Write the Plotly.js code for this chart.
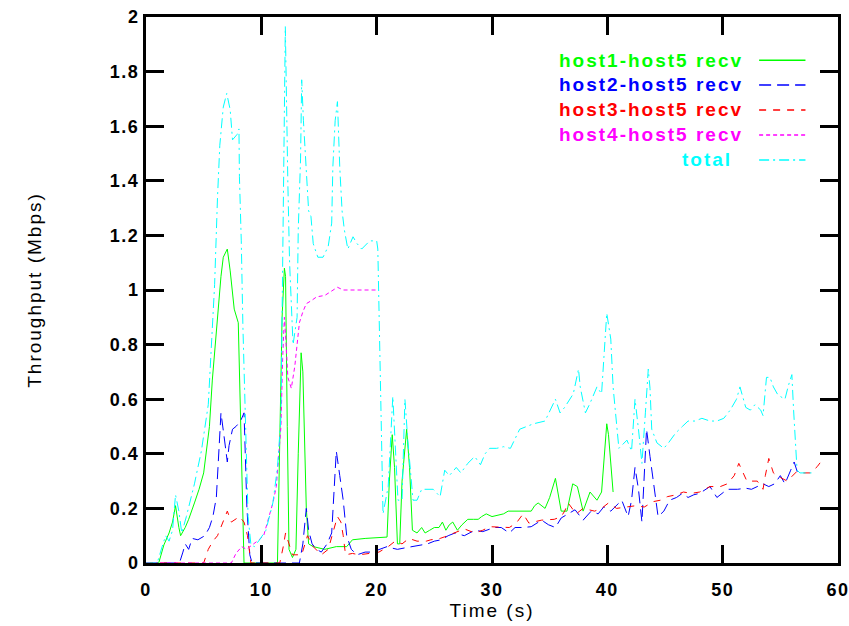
<!DOCTYPE html>
<html>
<head>
<meta charset="utf-8">
<script src="https://cdn.plot.ly/plotly-3.0.1.min.js"></script>
<style>
  html, body { margin: 0; padding: 0; background: #fff; }
  #chart { width: 849px; height: 626px; }
  #chart .main-svg text { letter-spacing: 2px; }
  #chart .main-svg .xtick text, #chart .main-svg .ytick text { letter-spacing: 1.5px; }
</style>
</head>
<body>
<div id="chart"></div>
<script>
// ---- data (time in s, throughput in Mbps) ----
const seriesNames = ["host1-host5 recv", "host2-host5 recv", "host3-host5 recv", "host4-host5 recv", "total"];
const seriesColors = ["#00ff00", "#0000ff", "#ff0000", "#ff00ff", "#00ffff"];
const seriesDashes = ["solid", "12px,6px", "7px,7px", "4px,3px", "10px,4px,2px,4px"];

const t1 = [0, 1.1, 1.55, 2.0, 2.3, 2.56, 2.85, 3.0, 3.4, 3.7,
  4.2, 4.6, 5.0, 5.2, 5.5, 5.75, 6.0, 6.2, 6.5, 6.7,
  7.05, 7.3, 7.5, 7.65, 8.0, 8.2, 8.35, 8.5, 11.4, 11.6,
  11.8, 12.0, 12.1, 12.25, 12.4, 12.7, 13.0, 13.2, 13.45, 13.6,
  13.75, 13.9, 14.1, 14.5, 15.5, 16.5, 17.4, 17.9, 19.0, 20.9,
  21.1, 21.35, 21.55, 21.8, 22.0, 22.2, 22.6, 22.85, 23.1, 23.5,
  23.9, 24.2, 24.6, 25.0, 25.4, 25.7, 26.0, 26.3, 26.6, 27.0,
  27.4, 27.9, 28.4, 28.8, 29.1, 29.5, 30.0, 30.5, 31.0, 31.4,
  32.0, 32.6, 33.4, 33.7, 34.0, 34.6, 35.0, 35.5, 36.0, 36.5,
  37.0, 37.4, 37.9, 38.5, 39.1, 39.5, 39.95, 40.1, 40.5];
const host1 = [0, 0, 0.066, 0.11, 0.15, 0.21, 0.13, 0.1, 0.13, 0.16,
  0.22, 0.27, 0.33, 0.39, 0.5, 0.67, 0.8, 0.92, 1.05, 1.12,
  1.15, 1.07, 1.0, 0.93, 0.88, 0.55, 0.25, 0, 0, 0.45,
  0.9, 1.08, 1.05, 0.5, 0.05, 0.02, 0.05, 0.4, 0.77, 0.7,
  0.45, 0.2, 0.07, 0.06, 0.05, 0.06, 0.06, 0.085, 0.09, 0.095,
  0.3, 0.47, 0.35, 0.07, 0.07, 0.3, 0.49, 0.35, 0.12, 0.11,
  0.13, 0.11, 0.12, 0.13, 0.13, 0.15, 0.12, 0.14, 0.15, 0.12,
  0.14, 0.16, 0.16, 0.16, 0.17, 0.18, 0.17, 0.176, 0.18, 0.19,
  0.19, 0.19, 0.19, 0.21, 0.22, 0.2, 0.24, 0.31, 0.19, 0.19,
  0.29, 0.28, 0.19, 0.26, 0.23, 0.26, 0.51, 0.47, 0.26];

const t2 = [0, 2.9, 3.2, 3.4, 3.7, 4.0, 4.5, 5.1, 5.5, 5.8,
  6.1, 6.3, 6.5, 6.75, 7.05, 7.2, 7.5, 7.8, 8.2, 8.5,
  8.6, 8.75, 9.0, 9.2, 13.3, 13.6, 13.9, 14.1, 14.4, 14.8,
  15.2, 15.7, 16.1, 16.3, 16.5, 16.8, 17.1, 17.4, 17.8, 18.3,
  19.0, 19.6, 20.3, 20.9, 21.3, 21.8, 22.4, 23.0, 23.7, 24.4,
  25.0, 25.6, 26.2, 26.8, 27.6, 28.0, 28.5, 29.2, 30.2, 30.8,
  31.5, 32.0, 32.7, 33.4, 34.3, 34.9, 35.5, 36.0, 36.6, 37.2,
  37.9, 38.6, 39.2, 39.7, 40.3, 40.8, 41.25, 41.8, 42.1, 42.4,
  42.7, 43.0, 43.2, 43.4, 43.7, 44.0, 44.4, 44.9, 45.4, 46.0,
  46.5, 47.0, 47.5, 48.0, 48.9, 49.5, 50.4, 51.3, 52.0, 52.5,
  53.0, 53.5, 54.0, 54.5, 55.0, 55.4, 55.9, 56.2, 56.5];
const host2 = [0, 0, 0.04, 0.07, 0.05, 0.09, 0.085, 0.1, 0.13, 0.17,
  0.24, 0.4, 0.55, 0.47, 0.37, 0.43, 0.49, 0.5, 0.52, 0.55,
  0.38, 0.2, 0.03, 0, 0, 0.07, 0.2, 0.12, 0.07, 0.05,
  0.04, 0.07, 0.11, 0.25, 0.41, 0.32, 0.23, 0.1, 0.05, 0.03,
  0.04, 0.04, 0.05, 0.06, 0.055, 0.05, 0.055, 0.06, 0.065, 0.07,
  0.08, 0.085, 0.1, 0.11, 0.1, 0.11, 0.12, 0.115, 0.13, 0.13,
  0.11, 0.13, 0.13, 0.133, 0.157, 0.14, 0.13, 0.165, 0.18, 0.195,
  0.157, 0.19, 0.18, 0.206, 0.19, 0.21, 0.23, 0.17, 0.23, 0.35,
  0.27, 0.15, 0.3, 0.49, 0.39, 0.29, 0.17, 0.19, 0.23, 0.24,
  0.255, 0.24, 0.25, 0.255, 0.28, 0.24, 0.27, 0.27, 0.274, 0.27,
  0.28, 0.29, 0.28, 0.29, 0.32, 0.29, 0.34, 0.37, 0.33];

const t3 = [0, 5.0, 5.4, 5.8, 6.2, 6.6, 7.05, 7.4, 7.8, 8.1,
  8.5, 8.8, 9.1, 11.6, 11.9, 12.1, 12.4, 12.7, 13.0, 13.5,
  14.0, 14.5, 15.2, 15.8, 16.2, 16.6, 16.9, 17.1, 17.3, 17.9,
  18.5, 19.6, 20.2, 21.0, 21.6, 22.2, 22.8, 23.5, 24.3, 24.7,
  25.5, 25.9, 26.8, 27.6, 28.5, 29.2, 29.8, 30.8, 31.5, 32.1,
  32.7, 33.2, 34.3, 35.4, 36.0, 36.3, 36.6, 37.3, 37.9, 38.9,
  39.5, 40.1, 40.8, 41.8, 42.5, 43.2, 44.0, 44.6, 45.2, 46.0,
  46.6, 47.3, 48.0, 48.9, 49.8, 50.4, 51.0, 51.4, 51.8, 52.1,
  53.0, 53.5, 53.7, 54.0, 54.4, 54.7, 55.6, 56.4, 57.0, 57.6,
  58.2, 58.5];
const host3 = [0, 0, 0.05, 0.08, 0.1, 0.14, 0.19, 0.15, 0.16, 0.17,
  0.15, 0.1, 0, 0, 0.06, 0.11, 0.07, 0.03, 0.03, 0.03,
  0.1, 0.06, 0.03, 0.05, 0.11, 0.17, 0.15, 0.1, 0.03, 0.035,
  0.03, 0.035, 0.04, 0.06, 0.08, 0.07, 0.09, 0.08, 0.08, 0.085,
  0.09, 0.096, 0.11, 0.125, 0.11, 0.12, 0.133, 0.13, 0.13, 0.146,
  0.18, 0.146, 0.157, 0.16, 0.17, 0.19, 0.22, 0.18, 0.2, 0.19,
  0.2, 0.22, 0.2, 0.206, 0.21, 0.205, 0.225, 0.23, 0.243, 0.25,
  0.26, 0.255, 0.26, 0.28, 0.28, 0.29, 0.32, 0.365, 0.33, 0.3,
  0.3, 0.27, 0.32, 0.383, 0.33, 0.32, 0.3, 0.334, 0.33, 0.33,
  0.353, 0.37];

const t4 = [0, 7.4, 7.8, 8.3, 8.7, 9.2, 9.8, 10.2, 10.7, 11.0,
  11.3, 11.5, 11.7, 11.85, 12.0, 12.15, 12.3, 12.6, 12.9, 13.1,
  13.3, 13.6, 13.9, 14.3, 14.8, 15.5, 16.2, 16.6, 17.1, 18.0,
  19.0, 20.0];
const host4 = [0, 0, 0.035, 0.06, 0.05, 0.065, 0.085, 0.1, 0.17, 0.22,
  0.28, 0.38, 0.5, 0.75, 0.9, 0.8, 0.68, 0.64, 0.72, 0.8,
  0.88, 0.92, 0.95, 0.96, 0.975, 0.98, 1.0, 1.01, 1.0, 1.0,
  1.0, 1.0];

const t5 = [0, 0.97, 1.4, 1.7, 2.0, 2.3, 2.56, 2.85, 3.1, 3.5,
  4.2, 4.8, 5.4, 5.65, 5.95, 6.2, 6.4, 6.7, 7.0, 7.3,
  7.5, 7.9, 8.06, 8.1, 8.26, 8.4, 8.55, 8.7, 8.85, 9.1,
  9.4, 9.85, 10.4, 11.0, 11.4, 11.7, 11.9, 11.96, 12.0, 12.08,
  12.12, 12.3, 12.45, 12.6, 12.75, 13.1, 13.2, 13.4, 13.5, 13.65,
  13.76, 13.9, 14.1, 14.3, 14.5, 14.9, 15.35, 15.8, 16.1, 16.2,
  16.4, 16.6, 16.7, 16.8, 17.0, 17.2, 17.5, 17.95, 18.3, 18.7,
  19.4, 20.0, 20.1, 20.3, 20.45, 20.55, 21.0, 21.4, 21.85, 22.2,
  22.45, 22.7, 23.15, 23.5, 23.9, 24.9, 25.5, 25.9, 26.3, 26.9,
  27.3, 27.9, 28.5, 29.0, 29.4, 29.8, 30.4, 31.0, 31.6, 32.4,
  33.0, 33.6, 34.6, 35.5, 35.9, 36.3, 37.05, 37.5, 37.65, 38.1,
  38.5, 39.1, 39.5, 39.95, 40.3, 40.5, 41.0, 41.7, 42.1, 42.4,
  42.7, 43.0, 43.3, 43.55, 43.7, 43.85, 44.3, 44.9, 45.3, 45.9,
  46.5, 47.0, 47.6, 48.2, 48.9, 49.5, 50.1, 50.65, 51.2, 51.5,
  52.0, 52.4, 52.8, 53.3, 53.5, 53.8, 54.1, 54.4, 54.8, 55.4,
  55.7, 56.0, 56.15, 56.3, 56.45, 56.7, 57.2, 57.7];
const total = [0, 0, 0.06, 0.1, 0.08, 0.12, 0.25, 0.19, 0.11, 0.17,
  0.29, 0.41, 0.58, 0.78, 1.02, 1.34, 1.53, 1.67, 1.72, 1.66,
  1.55, 1.57, 1.59, 1.415, 1.18, 0.87, 0.6, 0.41, 0.17, 0.066,
  0.06, 0.085, 0.12, 0.22, 0.35, 0.535, 1.17, 1.415, 1.66, 1.965,
  1.84, 1.39, 1.1, 0.96, 0.8, 0.9, 1.22, 1.48, 1.77, 1.62,
  1.54, 1.415, 1.29, 1.27, 1.17, 1.12, 1.12, 1.16, 1.245, 1.45,
  1.62, 1.69, 1.56, 1.45, 1.29, 1.22, 1.15, 1.195, 1.17, 1.15,
  1.18, 1.18, 1.15, 0.74, 0.41, 0.18, 0.28, 0.61, 0.23, 0.23,
  0.6, 0.45, 0.23, 0.23, 0.27, 0.27, 0.243, 0.34, 0.32, 0.35,
  0.33, 0.365, 0.39, 0.36, 0.4, 0.42, 0.42, 0.426, 0.42, 0.49,
  0.5, 0.51, 0.52, 0.6, 0.55, 0.57, 0.62, 0.71, 0.645, 0.55,
  0.585, 0.645, 0.62, 0.915, 0.82, 0.645, 0.42, 0.45, 0.41, 0.6,
  0.49, 0.365, 0.55, 0.71, 0.64, 0.49, 0.44, 0.42, 0.44, 0.475,
  0.5, 0.52, 0.52, 0.53, 0.52, 0.52, 0.53, 0.56, 0.6, 0.645,
  0.57, 0.56, 0.58, 0.56, 0.54, 0.68, 0.68, 0.645, 0.615, 0.6,
  0.65, 0.69, 0.56, 0.426, 0.34, 0.33, 0.33, 0.33];

const xTickVals = [0, 10, 20, 30, 40, 50, 60];
const yTickVals = [0, 0.2, 0.4, 0.6, 0.8, 1, 1.2, 1.4, 1.6, 1.8, 2];
const yTickText = ["0", "0.2", "0.4", "0.6", "0.8", "1", "1.2", "1.4", "1.6", "1.8", "2"];

// ---- build traces ----
const xs = [t1, t2, t3, t4, t5];
const ys = [host1, host2, host3, host4, total];
const traces = xs.map((x, i) => ({
  type: 'scatter', mode: 'lines', x: x, y: ys[i], name: seriesNames[i],
  line: { color: seriesColors[i], width: 1, dash: seriesDashes[i] },
  showlegend: false, hoverinfo: 'skip'
}));

// ---- legend key (text right-aligned, sample line to the right) ----
const legX = 0.843, sampleX0 = 0.886, sampleX1 = 0.953;
const legY = [0.921, 0.8755, 0.8297, 0.7839, 0.7381];
const annotations = seriesNames.map((n, i) => ({
  xref: 'paper', yref: 'paper', x: legX, y: legY[i], xanchor: 'right', yanchor: 'middle',
  text: n, showarrow: false,
  font: { family: 'Liberation Sans, Arial, sans-serif', size: 19, color: seriesColors[i], weight: 'bold' }
}));
const shapes = seriesNames.map((n, i) => ({
  type: 'line', xref: 'paper', yref: 'paper', x0: sampleX0, x1: sampleX1, y0: legY[i], y1: legY[i],
  line: { color: seriesColors[i], width: 1.5, dash: seriesDashes[i] }
}));

const tickFont = { family: 'Liberation Sans, Arial, sans-serif', size: 18, color: '#000', weight: 'bold' };
const titleFont = { family: 'Liberation Sans, Arial, sans-serif', size: 19, color: '#000' };

const layout = {
  width: 849, height: 626,
  margin: { l: 146, r: 11, t: 17, b: 63 },
  paper_bgcolor: '#fff', plot_bgcolor: '#fff',
  showlegend: false,
  xaxis: {
    range: [0, 60], tickvals: xTickVals, ticks: 'inside', ticklen: 18, tickwidth: 3, tickcolor: '#000',
    showline: true, linecolor: '#000', linewidth: 3, mirror: 'ticks',
    showgrid: false, zeroline: false, tickfont: tickFont, ticklabelstandoff: 8,
    title: { text: 'Time (s)', font: titleFont, standoff: 2 }
  },
  yaxis: {
    range: [0, 2], tickvals: yTickVals, ticktext: yTickText, ticks: 'inside', ticklen: 18, tickwidth: 3, tickcolor: '#000',
    showline: true, linecolor: '#000', linewidth: 3, mirror: 'ticks',
    showgrid: false, zeroline: false, tickfont: tickFont,
    title: { text: 'Throughput (Mbps)', font: titleFont, standoff: 68 }
  },
  annotations: annotations,
  shapes: shapes
};

Plotly.newPlot('chart', traces, layout, { displayModeBar: false, staticPlot: true });
</script>
</body>
</html>
